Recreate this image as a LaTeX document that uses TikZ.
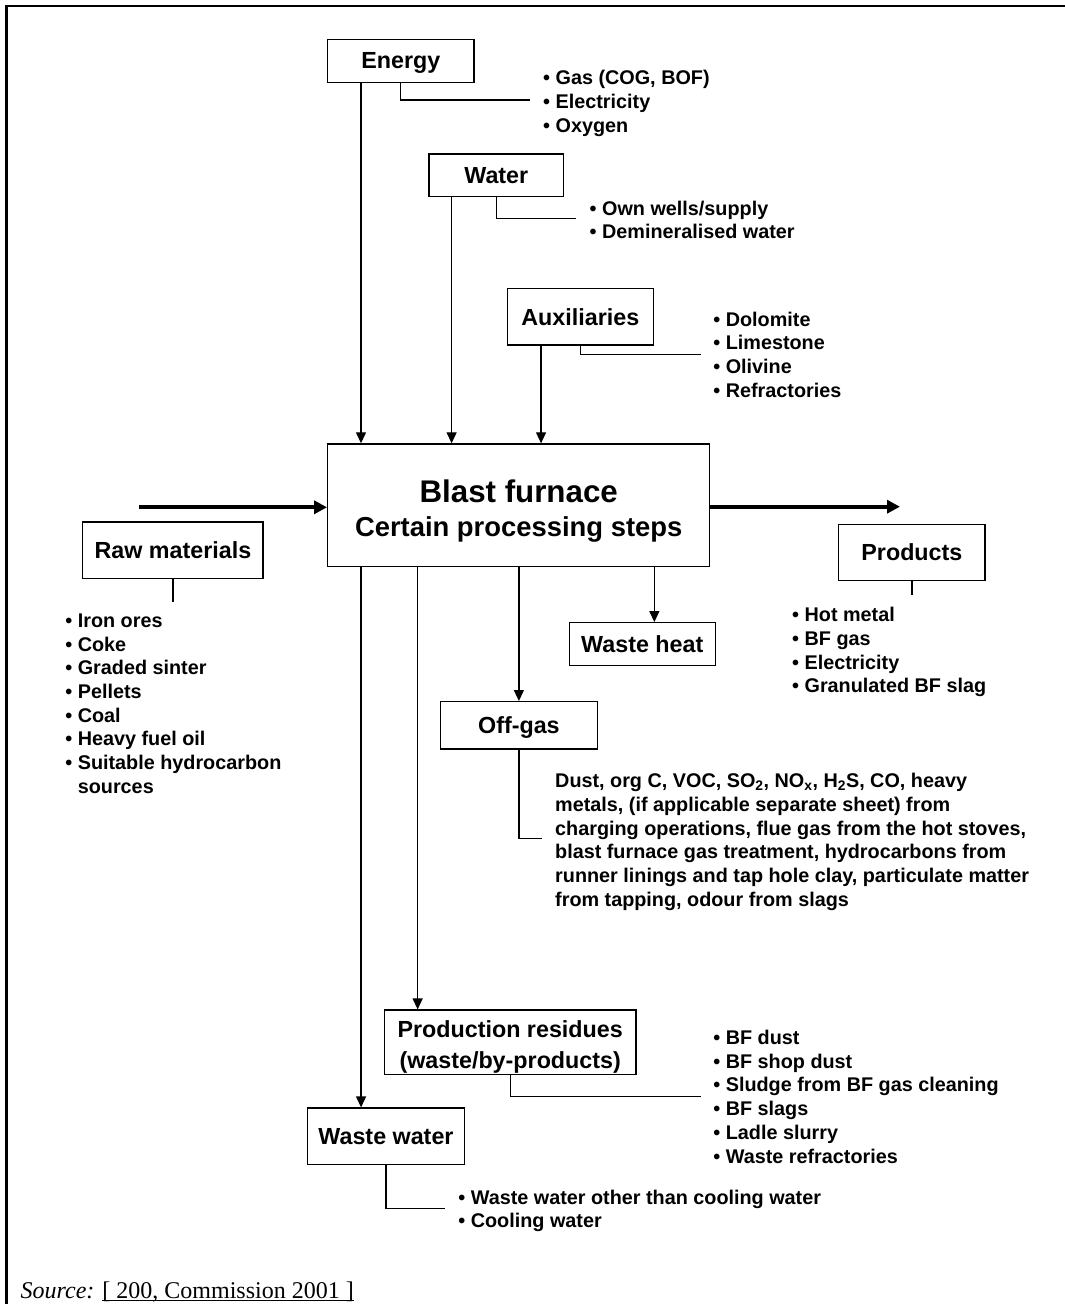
\documentclass[tikz,border=0pt]{standalone}
\usepackage{fontspec}
\setmainfont{Liberation Sans}
\newfontfamily\sourcefont{Liberation Serif}
\usetikzlibrary{positioning,arrows.meta}
\newcommand{\refline}[1]{\setbox0\hbox{#1}\rlap{\rule[-2.6pt]{\wd0}{1.1pt}}\box0}
\tikzset{
  boxstyle/.style={rectangle, draw, line width=1.3pt, inner sep=0pt, align=center,
    text depth=0pt, font=\fontsize{23.3}{30.7}\selectfont\bfseries},
  liststyle/.style={anchor=north west, inner sep=0pt, align=left,
    font=\fontsize{19.8}{23.7}\selectfont\bfseries},
  linkstyle/.style={line width=1.3pt},
  arrowstyle/.style={-{Triangle[length=11pt,width=10pt]}, line width=1.3pt},
  thickarrow/.style={-{Triangle[length=13pt,width=13pt]}, line width=4pt}
}

\begin{document}
\begin{tikzpicture}[x=1pt, y=-1pt]
  \useasboundingbox (0,0) rectangle (1065,1304);
  \draw[line width=2.4pt] (6.5,1304) -- (6.5,5.8) -- (1065,5.8);

  % inputs
  \node[boxstyle, minimum width=146.3pt, minimum height=43pt] (energy) at (400.8,60.8) {Energy};
  \node[boxstyle, minimum width=134.7pt, minimum height=42.3pt] (water) at (496.3,175.2) {Water};
  \node[boxstyle, minimum width=146pt, minimum height=56.3pt] (aux) at (580.3,316.8) {Auxiliaries};
  \node[boxstyle, minimum width=180.2pt, minimum height=56.7pt] (raw) at (172.9,550.3) {Raw materials};

  % process
  \node[boxstyle, minimum width=382pt, minimum height=122.7pt, font=\fontsize{31.3}{34}\selectfont\bfseries]
    (bf) at (518.7,505.3)
    {\rule{0pt}{27.8pt}Blast furnace\\\fontsize{27.4}{34}\selectfont Certain processing steps};

  % outputs
  \node[boxstyle, minimum width=146.3pt, minimum height=56.4pt] (products) at (911.9,552.5) {Products};
  \node[boxstyle, minimum width=146.3pt, minimum height=43pt] (wasteheat) at (642.3,644.2) {Waste heat};
  \node[boxstyle, minimum width=156.8pt, minimum height=47.3pt] (offgas) at (518.9,725.3) {Off-gas};
  \node[boxstyle, minimum width=251.7pt, minimum height=64.3pt] (residues) at (510.2,1042.2)
    {\rule{0pt}{21pt}Production residues\\(waste/by-products)};
  \node[boxstyle, minimum width=157.4pt, minimum height=56.3pt] (wastewater) at (386,1136.2) {Waste water};

  % arrows into the furnace
  \coordinate (e1) at ([xshift=34pt]energy.south west);
  \coordinate (w1) at ([xshift=23.3pt]water.south west);
  \coordinate (a1) at ([xshift=34.4pt]aux.south west);
  \draw[arrowstyle] (e1) -- (e1 |- bf.north);
  \draw[arrowstyle] (w1) -- (w1 |- bf.north);
  \draw[arrowstyle] (a1) -- (a1 |- bf.north);
  \coordinate (rawin) at (138.9,507.3);
  \coordinate (prodout) at (900,506.7);
  \draw[thickarrow] (rawin) -- (rawin -| bf.west);
  \draw[thickarrow] (bf.east |- prodout) -- (prodout);

  % arrows out of the furnace
  \coordinate (d1) at ([xshift=34pt]bf.south west);
  \coordinate (d2) at ([xshift=90.6pt]bf.south west);
  \coordinate (d4) at ([xshift=327.3pt]bf.south west);
  \draw[arrowstyle] (d1) -- (d1 |- wastewater.north);
  \draw[arrowstyle] (d2) -- (d2 |- residues.north);
  \draw[arrowstyle] (offgas.north |- bf.south) -- (offgas.north);
  \draw[arrowstyle] (d4) -- (d4 |- wasteheat.north);

  % lists
  \coordinate (ebr) at (530,100);
  \draw[linkstyle] (energy.south) |- (ebr);
  \node[liststyle, right=13pt of ebr, yshift=-3.3pt] (elist)
    {\textbullet\ Gas (COG, BOF)\\\textbullet\ Electricity\\\textbullet\ Oxygen};

  \coordinate (wbr) at (576,218.7);
  \draw[linkstyle] (water.south) |- (wbr);
  \node[liststyle, right=13.5pt of wbr, yshift=-1.3pt] (wlist)
    {\textbullet\ Own wells/supply\\\textbullet\ Demineralised water};

  \coordinate (abr) at (701,354.7);
  \draw[linkstyle] (aux.south) |- (abr);
  \node[liststyle, right=12.2pt of abr] (alist)
    {\textbullet\ Dolomite\\\textbullet\ Limestone\\\textbullet\ Olivine\\\textbullet\ Refractories};

  \coordinate (rtk) at (172.9,601.7);
  \draw[linkstyle] (raw.south) -- (rtk);
  \node[liststyle] (rlist) at (65.2,613.5)
    {\textbullet\ Iron ores\\\textbullet\ Coke\\\textbullet\ Graded sinter\\\textbullet\ Pellets\\
     \textbullet\ Coal\\\textbullet\ Heavy fuel oil\\\textbullet\ Suitable hydrocarbon\\
     \phantom{\textbullet\ }sources};

  \coordinate (ptk) at (911.9,595);
  \draw[linkstyle] (products.south) -- (ptk);
  \node[liststyle] (plist) at (792,607.2)
    {\textbullet\ Hot metal\\\textbullet\ BF gas\\\textbullet\ Electricity\\\textbullet\ Granulated BF slag};

  \coordinate (obr) at (542.2,838.3);
  \draw[linkstyle] (offgas.south) |- (obr);
  \node[liststyle, right=12.8pt of obr, yshift=-3.5pt] (olist)
    {Dust, org C, VOC, SO\textsubscript{2}, NO\textsubscript{x}, H\textsubscript{2}S, CO, heavy\\
     metals, (if applicable separate sheet) from\\
     charging operations, flue gas from the hot stoves,\\
     blast furnace gas treatment, hydrocarbons from\\
     runner linings and tap hole clay, particulate matter\\
     from tapping, odour from slags};

  \coordinate (rbr) at (701,1096.7);
  \draw[linkstyle] (residues.south) |- (rbr);
  \node[liststyle, right=12.2pt of rbr] (reslist)
    {\textbullet\ BF dust\\\textbullet\ BF shop dust\\\textbullet\ Sludge from BF gas cleaning\\
     \textbullet\ BF slags\\\textbullet\ Ladle slurry\\\textbullet\ Waste refractories};

  \coordinate (wwbr) at (445,1208.3);
  \draw[linkstyle] (wastewater.south) |- (wwbr);
  \node[liststyle, right=13.2pt of wwbr, yshift=-2.5pt] (wwlist)
    {\textbullet\ Waste water other than cooling water\\\textbullet\ Cooling water};

  % source line
  \node[anchor=base west, inner sep=0pt, font=\sourcefont\fontsize{24}{28}\selectfont] (source)
    at (20.5,1298) {\textit{Source:} \refline{[ 200, Commission 2001 ]}};
\end{tikzpicture}
\end{document}
